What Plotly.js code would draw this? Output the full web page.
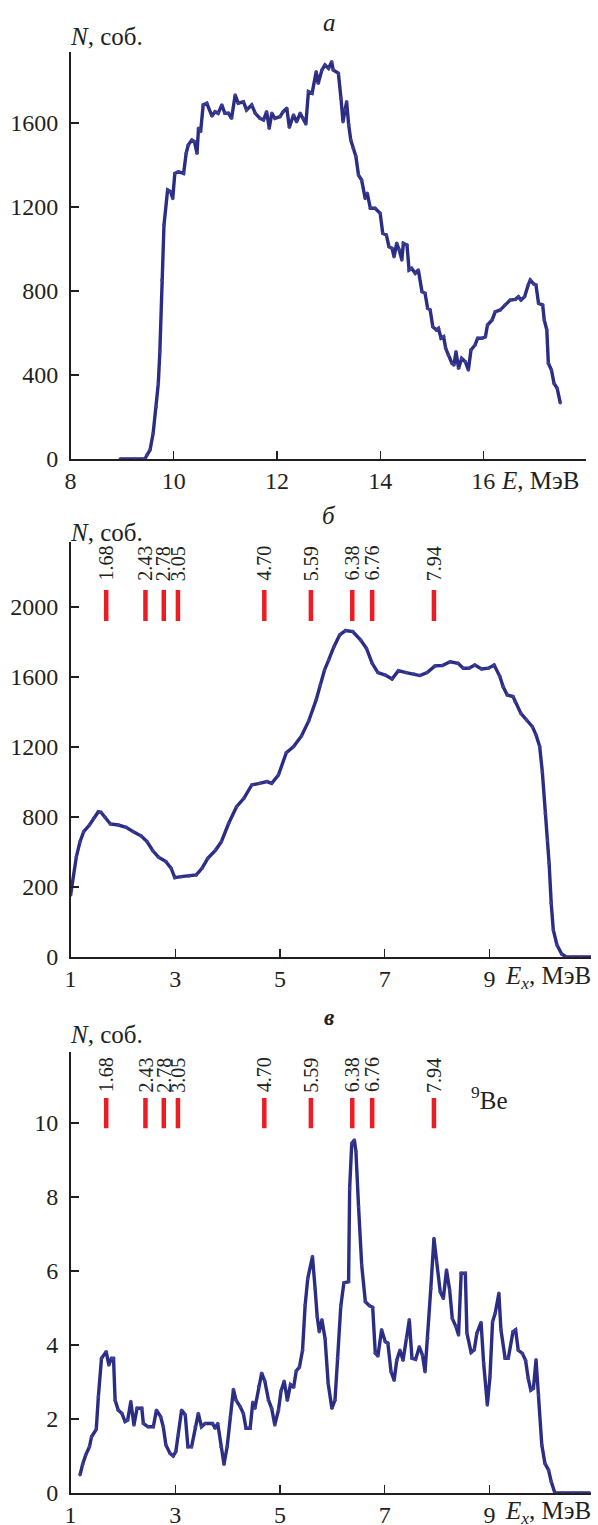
<!DOCTYPE html>
<html><head><meta charset="utf-8">
<script src="https://cdn.plot.ly/plotly-3.0.1.min.js"></script>
<style>html,body{margin:0;padding:0;background:#fff}#chart{width:598px;height:1525px}</style>
</head><body><div id="chart"></div>
<script>
// ---------- data ----------
// Panel a: spectrum vs E, MeV
const energyA = [8.96, 9.10, 9.25, 9.40, 9.44, 9.48, 9.54, 9.60, 9.66, 9.70,
  9.73, 9.77, 9.81, 9.88, 9.94, 9.98, 10.02, 10.09, 10.19, 10.24,
  10.28, 10.35, 10.40, 10.45, 10.48, 10.52, 10.57, 10.64, 10.74, 10.80,
  10.86, 10.93, 10.99, 11.06, 11.12, 11.19, 11.25, 11.35, 11.41, 11.51,
  11.58, 11.67, 11.74, 11.80, 11.85, 11.90, 11.96, 12.06, 12.12, 12.19,
  12.24, 12.32, 12.38, 12.45, 12.51, 12.56, 12.61, 12.68, 12.76, 12.80,
  12.87, 12.93, 13.00, 13.06, 13.09, 13.19, 13.24, 13.28, 13.32, 13.35,
  13.39, 13.43, 13.48, 13.53, 13.58, 13.64, 13.71, 13.75, 13.81, 13.90,
  14.00, 14.05, 14.12, 14.17, 14.23, 14.27, 14.32, 14.37, 14.42, 14.45,
  14.52, 14.56, 14.61, 14.68, 14.74, 14.81, 14.87, 14.92, 14.97, 15.02,
  15.09, 15.13, 15.18, 15.23, 15.27, 15.32, 15.39, 15.43, 15.47, 15.52,
  15.58, 15.65, 15.71, 15.76, 15.84, 15.89, 15.97, 16.04, 16.08, 16.17,
  16.23, 16.33, 16.42, 16.52, 16.62, 16.68, 16.73, 16.80, 16.87, 16.91,
  16.98, 17.02, 17.07, 17.15, 17.18, 17.23, 17.26, 17.32, 17.37, 17.43,
  17.49];
const countsA = [0, 0, 0, 0, 0, 19, 43, 122, 249, 360,
  511, 852, 1114, 1281, 1273, 1241, 1360, 1368, 1360, 1456,
  1495, 1519, 1511, 1456, 1575, 1559, 1686, 1694, 1633, 1654,
  1646, 1686, 1646, 1646, 1622, 1733, 1694, 1701, 1662, 1686,
  1646, 1622, 1614, 1654, 1575, 1646, 1622, 1630, 1654, 1670,
  1580, 1638, 1606, 1646, 1622, 1595, 1749, 1741, 1844, 1789,
  1852, 1876, 1860, 1892, 1852, 1837, 1718, 1606, 1662, 1701,
  1590, 1519, 1480, 1440, 1352, 1329, 1241, 1265, 1194, 1194,
  1170, 1075, 1067, 1011, 1003, 963, 1027, 995, 948, 1027,
  1019, 900, 908, 884, 900, 797, 789, 718, 710, 630,
  614, 622, 575, 582, 527, 495, 456, 448, 511, 432,
  479, 463, 424, 519, 543, 575, 575, 582, 638, 662,
  701, 710, 733, 757, 760, 773, 757, 773, 829, 852,
  833, 829, 741, 733, 662, 614, 456, 424, 360, 337,
  268];

// Panel b: spectrum vs Ex, MeV
const energyB = [1.00, 1.11, 1.18, 1.25, 1.36, 1.44, 1.53, 1.58, 1.66, 1.76,
  1.91, 2.06, 2.20, 2.35, 2.46, 2.57, 2.68, 2.82, 2.92, 2.99,
  3.11, 3.26, 3.40, 3.51, 3.62, 3.77, 3.88, 4.02, 4.17, 4.31,
  4.46, 4.61, 4.75, 4.84, 4.97, 5.12, 5.26, 5.41, 5.55, 5.69,
  5.77, 5.85, 5.93, 6.03, 6.14, 6.25, 6.39, 6.54, 6.65, 6.76,
  6.87, 7.01, 7.14, 7.26, 7.41, 7.56, 7.67, 7.81, 7.96, 8.10,
  8.25, 8.40, 8.50, 8.61, 8.72, 8.85, 8.98, 9.09, 9.20, 9.26,
  9.34, 9.45, 9.49, 9.60, 9.71, 9.82, 9.89, 9.96, 10.01, 10.07,
  10.11, 10.14, 10.18, 10.22, 10.29, 10.38, 10.47, 10.60, 10.75, 10.95];
const countsB = [354, 573, 659, 716, 754, 792, 830, 827, 798, 760,
  754, 741, 716, 691, 659, 607, 570, 545, 507, 453,
  459, 463, 469, 507, 564, 611, 659, 764, 859, 907,
  983, 992, 1002, 992, 1040, 1167, 1202, 1263, 1350, 1469,
  1554, 1640, 1697, 1773, 1840, 1865, 1859, 1811, 1764, 1678,
  1625, 1611, 1588, 1636, 1625, 1617, 1608, 1625, 1663, 1665,
  1687, 1678, 1650, 1650, 1668, 1646, 1650, 1668, 1602, 1545,
  1497, 1488, 1459, 1392, 1354, 1316, 1269, 1202, 1059, 821,
  669, 535, 307, 154, 69, 17, 0, 0, 0, 0];

// Panel c: 9Be spectrum vs Ex, MeV
const energyC = [1.18, 1.23, 1.29, 1.36, 1.40, 1.49, 1.53, 1.59, 1.68, 1.73,
  1.78, 1.82, 1.85, 1.91, 1.98, 2.04, 2.09, 2.15, 2.21, 2.27,
  2.36, 2.39, 2.48, 2.58, 2.64, 2.72, 2.77, 2.82, 2.90, 2.96,
  3.01, 3.06, 3.12, 3.19, 3.24, 3.31, 3.38, 3.44, 3.50, 3.57,
  3.71, 3.76, 3.81, 3.87, 3.93, 3.99, 4.05, 4.11, 4.16, 4.24,
  4.30, 4.35, 4.43, 4.48, 4.52, 4.59, 4.65, 4.71, 4.78, 4.84,
  4.90, 4.97, 5.02, 5.08, 5.14, 5.20, 5.26, 5.31, 5.37, 5.43,
  5.48, 5.53, 5.62, 5.67, 5.71, 5.75, 5.80, 5.86, 5.92, 5.99,
  6.05, 6.10, 6.16, 6.22, 6.31, 6.33, 6.37, 6.42, 6.45, 6.50,
  6.56, 6.63, 6.71, 6.77, 6.82, 6.87, 6.94, 7.01, 7.06, 7.12,
  7.18, 7.23, 7.29, 7.35, 7.42, 7.47, 7.52, 7.59, 7.66, 7.72,
  7.77, 7.82, 7.88, 7.94, 7.99, 8.06, 8.12, 8.18, 8.24, 8.29,
  8.36, 8.41, 8.46, 8.54, 8.57, 8.65, 8.71, 8.76, 8.84, 8.89,
  8.96, 9.01, 9.06, 9.11, 9.18, 9.22, 9.30, 9.36, 9.45, 9.50,
  9.55, 9.63, 9.69, 9.74, 9.79, 9.84, 9.89, 9.94, 10.00, 10.06,
  10.13, 10.18, 10.25, 10.40, 10.60, 10.75, 10.91];
const countsC = [0.49, 0.78, 1.03, 1.25, 1.52, 1.72, 2.60, 3.64, 3.82, 3.46,
  3.64, 3.64, 2.51, 2.24, 2.15, 1.93, 1.97, 2.47, 1.84, 2.29,
  2.29, 1.88, 1.79, 1.79, 2.24, 2.06, 1.79, 1.30, 1.07, 1.00,
  1.12, 1.57, 2.24, 2.11, 1.25, 1.25, 1.79, 2.15, 1.79, 1.88,
  1.88, 1.75, 1.88, 1.25, 0.78, 1.25, 2.06, 2.80, 2.51, 2.33,
  2.15, 1.75, 1.75, 2.45, 2.29, 2.87, 3.24, 3.02, 2.51, 2.29,
  1.84, 2.24, 2.76, 3.02, 2.51, 2.93, 2.86, 3.30, 3.40, 3.86,
  5.08, 5.80, 6.39, 5.53, 4.77, 4.36, 4.68, 4.18, 2.96, 2.29,
  2.51, 3.64, 5.04, 5.68, 5.71, 8.23, 9.45, 9.54, 9.23, 7.74,
  6.16, 5.17, 5.06, 5.02, 3.78, 3.70, 4.41, 4.09, 4.05, 3.28,
  3.05, 3.59, 3.86, 3.59, 4.18, 4.68, 3.64, 3.61, 3.95, 3.73,
  3.28, 4.18, 5.53, 6.88, 6.25, 5.44, 5.26, 6.03, 5.49, 4.72,
  4.50, 4.27, 5.94, 5.94, 4.32, 3.80, 3.87, 4.32, 4.61, 3.50,
  2.38, 3.14, 4.63, 4.86, 5.40, 4.41, 3.64, 3.64, 4.36, 4.41,
  3.86, 3.77, 3.59, 3.10, 2.78, 2.83, 3.60, 2.65, 1.30, 0.80,
  0.62, 0.31, 0.00, 0, 0, 0, 0];

// 9Be level energies (MeV) and their labels
const levelEnergies = [1.68, 2.43, 2.78, 3.05, 4.70, 5.59, 6.38, 6.76, 7.94];
const levelLabels = ["1.68", "2.43", "2.78", "3.05", "4.70", "5.59", "6.38", "6.76", "7.94"];

// tick values / labels
const xTicksA = [8, 10, 12, 14, 16];
const xTicksBC = [1, 3, 5, 7, 9];
const yTicksA = [0, 400, 800, 1200, 1600];
const yTicksB = [0, 400, 800, 1200, 1600, 2000];
const yTickTextB = ["0", "200", "800", "1200", "1600", "2000"];
const yTicksC = [0, 2, 4, 6, 8, 10];

// ---------- layout helpers ----------
const FONT = 'Liberation Serif';
const INK = '#231f20';
const NAVY = '#2b2d84';
const RED = '#ed1c24';
const W = 598, H = 1525;
const fx = v => v / W;
const fy = v => 1 - v / H;

function xAxis(domain, range, vals, anchor) {
  return {domain, range, tickmode: 'array', tickvals: vals, ticktext: vals.map(String),
    ticks: 'inside', ticklen: 8, tickwidth: 1.2, tickcolor: INK,
    showline: true, linecolor: INK, linewidth: 1.5, showgrid: false, zeroline: false,
    ticklabelstandoff: 0,
    tickfont: {family: FONT, size: 24, color: INK}, anchor, fixedrange: true};
}
function yAxis(domain, range, vals, text, anchor) {
  return {domain, range, tickmode: 'array', tickvals: vals, ticktext: text,
    ticks: 'inside', ticklen: 8, tickwidth: 1.2, tickcolor: INK,
    showline: true, linecolor: INK, linewidth: 1.5, showgrid: false, zeroline: false,
    ticklabelstandoff: 6,
    tickfont: {family: FONT, size: 24, color: INK}, anchor, fixedrange: true};
}
function spectrum(x, y, xa, ya) {
  return {x, y, xaxis: xa, yaxis: ya, type: 'scatter', mode: 'lines+markers',
    line: {color: NAVY, width: 3.4}, marker: {color: '#3c3e98', size: 3.5},
    hoverinfo: 'skip', showlegend: false};
}

const traces = [
  spectrum(energyA, countsA, 'x', 'y'),
  spectrum(energyB, countsB, 'x2', 'y2'),
  spectrum(energyC, countsC, 'x3', 'y3')
];

const shapes = [];
const annotations = [];

// level markers and labels for panels b and c
const levelPanels = [
  {xr: 'x2', yr: 'y2', y0: 1920, y1: 2097, yl: 2249},
  {xr: 'x3', yr: 'y3', y0: 9.86, y1: 10.68, yl: 11.30}
];
levelPanels.forEach(p => {
  levelEnergies.forEach((e, i) => {
    shapes.push({type: 'line', xref: p.xr, yref: p.yr, x0: e, x1: e, y0: p.y0, y1: p.y1,
      line: {color: RED, width: 4.5}});
    annotations.push({xref: p.xr, yref: p.yr, x: e, y: p.yl, text: levelLabels[i],
      textangle: -90, showarrow: false, xanchor: 'center', yanchor: 'middle',
      font: {family: FONT, size: 20, color: INK}});
  });
});

function paperText(text, x, y, size, xanchor) {
  annotations.push({xref: 'paper', yref: 'paper', x: fx(x), y: fy(y), text,
    showarrow: false, xanchor: xanchor || 'left', yanchor: 'middle',
    font: {family: FONT, size, color: INK}});
}
// panel letters
paperText('<i>а</i>', 329, 23, 25, 'center');
paperText('<i>б</i>', 329, 515, 25, 'center');
paperText('<i><b>в</b></i>', 329, 1017, 23, 'center');
// y titles
paperText('<i>N</i>, соб.', 68, 37, 25);
paperText('<i>N</i>, соб.', 68, 532, 25);
paperText('<i>N</i>, соб.', 68, 1034, 25);
// x titles
paperText('<i>E</i>, МэВ', 499, 480, 25);
paperText('<i>E<sub>x</sub></i>, МэВ', 503, 977, 25);
paperText('<i>E<sub>x</sub></i>, МэВ', 503, 1512, 25);
// nucleus
paperText('<sup>9</sup>Be', 469, 1098, 25);

const layout = {
  width: W, height: H,
  margin: {l: 0, r: 0, t: 0, b: 0},
  paper_bgcolor: '#fff', plot_bgcolor: 'rgba(0,0,0,0)',
  showlegend: false,
  xaxis: xAxis([fx(70.6), fx(585.5)], [8, 17.98], xTicksA, 'y'),
  yaxis: yAxis([fy(459), fy(52)], [0, 1938], yTicksA, yTicksA.map(String), 'x'),
  xaxis2: xAxis([fx(70.6), fx(591)], [1, 10.94], xTicksBC, 'y2'),
  yaxis2: yAxis([fy(957), fy(542)], [0, 2371], yTicksB, yTickTextB, 'x2'),
  xaxis3: xAxis([fx(70.6), fx(591)], [1, 10.94], xTicksBC, 'y3'),
  yaxis3: yAxis([fy(1493), fy(1052)], [0, 11.92], yTicksC, yTicksC.map(String), 'x3'),
  shapes, annotations
};

Plotly.newPlot('chart', traces, layout, {staticPlot: true, displayModeBar: false});
</script>
</body></html>
